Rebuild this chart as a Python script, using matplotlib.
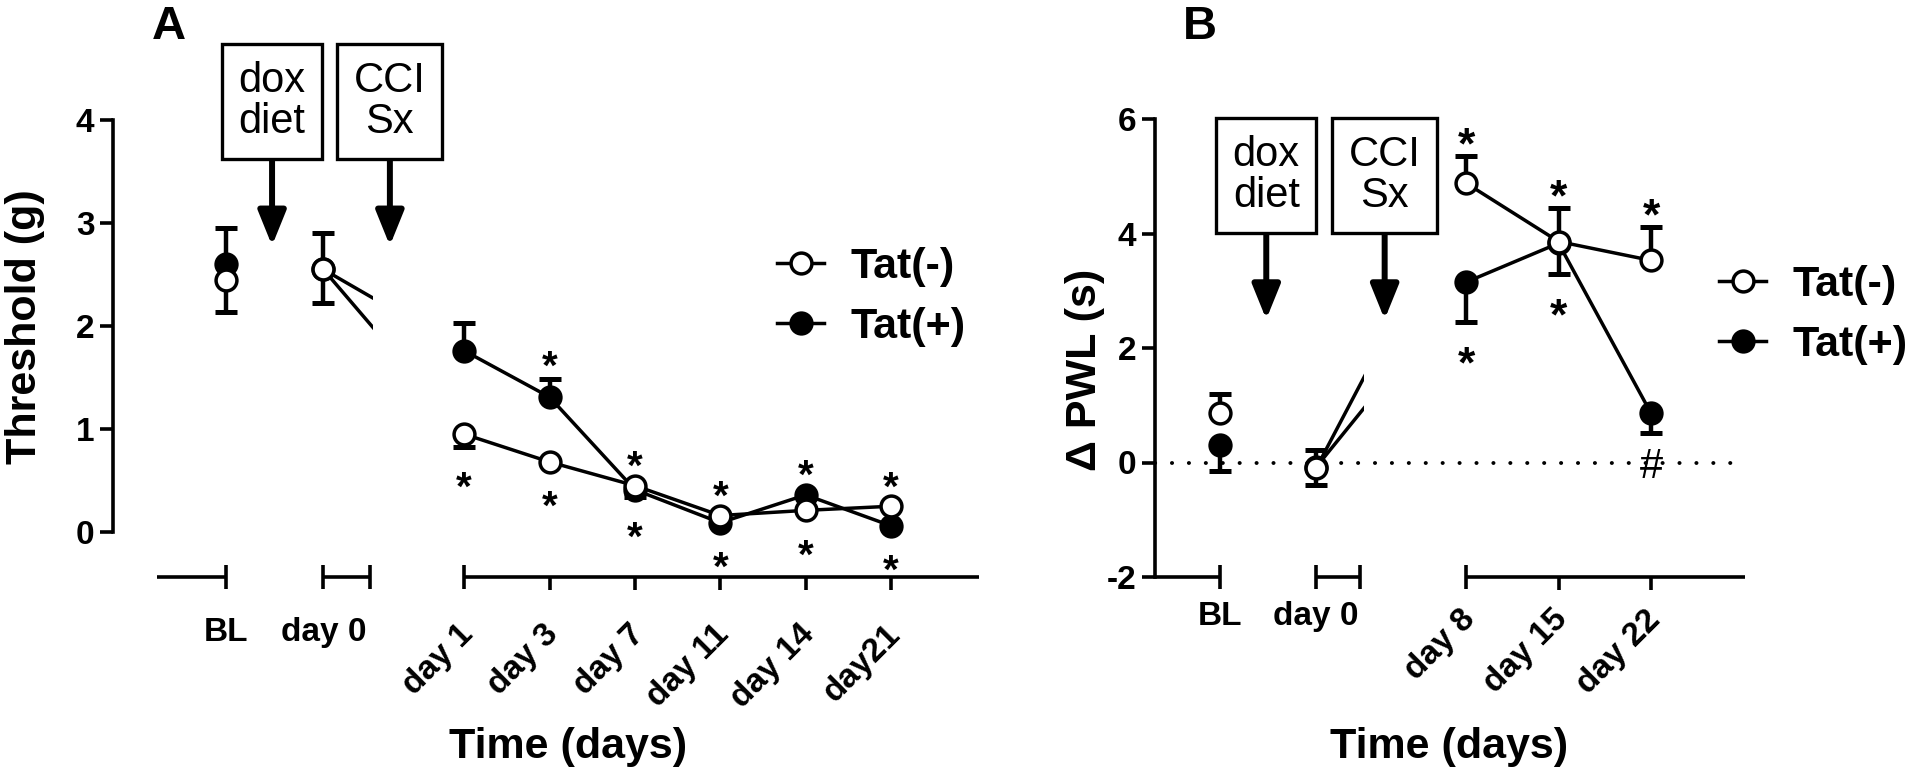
import numpy as np
import matplotlib
matplotlib.use('Agg')
import matplotlib.pyplot as plt
from matplotlib.lines import Line2D
from matplotlib.patches import Rectangle

plt.rcParams['font.family'] = ['Liberation Sans', 'DejaVu Sans']

# --
# data, panel A : threshold (g)

labels_a = ['BL', 'day 0', 'day 1', 'day 3', 'day 7', 'day 11', 'day 14', 'day21']
neg_a    = [2.45, 2.55, 0.95, 0.68, 0.45, 0.16, 0.21, 0.25]
neg_a_lo = [0.31, 0.33, 0.12, 0.00, 0.00, 0.00, 0.00, 0.00]
neg_a_hi = [0.00, 0.00, 0.00, 0.00, 0.00, 0.00, 0.00, 0.00]
pos_a    = [2.60, 2.55, 1.76, 1.31, 0.41, 0.09, 0.36, 0.06]
pos_a_lo = [0.00, 0.00, 0.00, 0.00, 0.07, 0.00, 0.00, 0.00]
pos_a_hi = [0.35, 0.35, 0.27, 0.18, 0.00, 0.00, 0.00, 0.00]
# significance marks: (symbol, side) with side +1 above, -1 below
sig_neg_a = [None, None, ('*', -1), ('*', -1), ('*', 1), ('*', 1), ('*', -1), ('*', 1)]
sig_pos_a = [None, None, None, ('*', 1), ('*', -1), ('*', -1), ('*', 1), ('*', -1)]

# panel B : delta PWL (s)

labels_b = ['BL', 'day 0', 'day 8', 'day 15', 'day 22']
neg_b    = [0.86, -0.10, 4.88, 3.86, 3.53]
neg_b_lo = [0.00, 0.30, 0.00, 0.00, 0.00]
neg_b_hi = [0.34, 0.00, 0.47, 0.58, 0.58]
pos_b    = [0.30, -0.08, 3.15, 3.83, 0.86]
pos_b_lo = [0.44, 0.00, 0.70, 0.54, 0.35]
pos_b_hi = [0.00, 0.29, 0.00, 0.00, 0.00]
sig_neg_b = [None, None, ('*', 1), ('*', 1), ('*', 1)]
sig_pos_b = [None, None, ('*', -1), ('*', -1), ('#', -1)]

# --
# layout (pixels of the 1920x776 canvas)

W, H = 1920, 776
PT = 0.72   # points per pixel at dpi 100

fig = plt.figure(figsize=(19.2, 7.76), dpi=100)

def px_rect(l, t, r, b):
  return [l / W, 1 - b / H, (r - l) / W, (b - t) / H]

ax_a = fig.add_axes(px_rect(113, 120, 979, 577))
ax_b = fig.add_axes(px_rect(1155, 119, 1745, 577))

xpos_a = np.r_[0, 1.14, 2.79 + np.arange(6)]
xpos_b = np.r_[0, 1.04, 2.66 + np.arange(3)]

LW = 2.5
MS = 15
AX_LW = 2.6
TICK_FS = 24


def draw_panel(ax, xpos, labels, neg, neg_lo, neg_hi, pos, pos_lo, pos_hi,
               sig_neg, sig_pos, xlim, ylim, yticks, seg1_start, seg2_end, gap_x,
               lab_pad, rot_pad, sig_fs, ppu):
  ax.set_xlim(*xlim)
  ax.set_ylim(*ylim)

  for s in ['top', 'right', 'bottom']:
    ax.spines[s].set_visible(False)
  ax.spines['left'].set_linewidth(AX_LW)
  ax.spines['left'].set_bounds(yticks[0], yticks[-1])
  ax.set_yticks(yticks, [str(t) for t in yticks], fontsize=TICK_FS, fontweight='bold')
  ax.tick_params(axis='y', length=9.4, width=AX_LW, pad=4)
  ax.set_xticks([])
  ax.patch.set_visible(False)

  y0 = ylim[0]
  # broken x axis
  segs = [(seg1_start, xpos[0]), (xpos[1], seg2_end), (xpos[2], xlim[1])]
  for a, b in segs:
    ax.plot([a, b], [y0, y0], color='k', lw=AX_LW, solid_capstyle='butt', clip_on=False)
  caps = [xpos[0], xpos[1], seg2_end, xpos[2]]
  ax.plot(caps, [y0] * len(caps), ls='none', marker='|', ms=17, mew=AX_LW, color='k', clip_on=False)
  ax.plot(xpos[3:], [y0] * len(xpos[3:]), ls='none', marker=3, ms=9, mew=AX_LW, color='k', clip_on=False)

  # tick labels
  for i, (x, lab) in enumerate(zip(xpos, labels)):
    if i < 2:
      ax.annotate(lab, xy=(x, y0), xytext=(0, -lab_pad * PT), textcoords='offset points',
                  ha='center', va='top', fontsize=TICK_FS, fontweight='bold', annotation_clip=False)
    else:
      ax.annotate(lab, xy=(x, y0), xytext=(3, -rot_pad * PT), textcoords='offset points',
                  ha='right', va='center', rotation=45, rotation_mode='anchor',
                  fontsize=TICK_FS, fontweight='bold', annotation_clip=False)

  # connecting lines (day 0 -> first post-surgery point is cut at the axis break)
  clip = Rectangle((xlim[0], ylim[0] - 10), gap_x - xlim[0], 100, transform=ax.transData)
  for vals, z in [(pos, 2.5), (neg, 2.6)]:
    ax.plot(xpos[2:], vals[2:], color='k', lw=LW, zorder=z)
    ln, = ax.plot(xpos[1:3], vals[1:3], color='k', lw=LW, zorder=z)
    ln.set_clip_path(clip)

  # error bars
  for vals, lo, hi in [(pos, pos_lo, pos_hi), (neg, neg_lo, neg_hi)]:
    vals, lo, hi = map(np.asarray, (vals, lo, hi))
    m = (lo > 0) | (hi > 0)
    ax.errorbar(xpos[m], vals[m], yerr=[lo[m], hi[m]], fmt='none', ecolor='k',
                elinewidth=3.2, capsize=8, capthick=3.6, zorder=2)

  # markers
  ax.plot(xpos, pos, ls='none', marker='o', ms=MS, mfc='k', mec='k', mew=LW, zorder=3)
  ax.plot(xpos, neg, ls='none', marker='o', ms=MS, mfc='white', mec='k', mew=LW, zorder=4)

  # significance marks
  for vals, lo, hi, sig in [(neg, neg_lo, neg_hi, sig_neg), (pos, pos_lo, pos_hi, sig_pos)]:
    for x, v, l, h, s in zip(xpos, vals, lo, hi, sig):
      if s is None:
        continue
      sym, side = s
      if side > 0:
        d = max(h * ppu + 23, 30)
      else:
        d = -max(l * ppu + 30, 34)
      if sym == '*':
        fs, k, w = sig_fs, 0.575, 'bold'
      else:
        fs, k, w = sig_fs - 2, 0.345, 'normal'
      ax.annotate(sym, xy=(x, v), xytext=(0, d * PT - k * fs), textcoords='offset points',
                  ha='center', va='baseline', fontsize=fs, fontweight=w, annotation_clip=False)


draw_panel(ax_a, xpos_a, labels_a, neg_a, neg_a_lo, neg_a_hi, pos_a, pos_a_lo, pos_a_hi,
           sig_neg_a, sig_pos_a, (-1.323, 8.82), (-0.437, 4), [0, 1, 2, 3, 4],
           -0.81, 1.686, 1.72, 40, 53, 29, 457 / 4.437)
draw_panel(ax_b, xpos_b, labels_b, neg_b, neg_b_lo, neg_b_hi, pos_b, pos_b_lo, pos_b_hi,
           sig_neg_b, sig_pos_b, (-0.703, 5.676), (-2, 6), [-2, 0, 2, 4, 6],
           -0.703, 1.514, 1.557, 24, 38, 32, 458 / 8)

# dotted zero line in B
ax_b.plot([-0.703, 5.54], [0, 0], color='k', lw=2.8, ls=(0, (0.05, 4.3)),
          dash_capstyle='round', zorder=1)

# treatment boxes with arrows


def event_box(ax, text, x, y_box, y_tip):
  ax.annotate(text, xy=(x, y_tip), xytext=(x, y_box), ha='center', va='center',
              fontsize=30, linespacing=1.05, annotation_clip=False,
              bbox=dict(boxstyle='square,pad=0.4', fc='white', ec='k', lw=2.4),
              arrowprops=dict(arrowstyle='-|>,head_length=2.1,head_width=0.85', mutation_scale=10,
                              lw=4.3, color='k', shrinkA=0, shrinkB=0))


event_box(ax_a, 'dox\ndiet', 0.54, 4.18, 2.78)
event_box(ax_a, 'CCI\nSx', 1.92, 4.18, 2.78)
event_box(ax_b, 'dox\ndiet', 0.50, 5.01, 2.50)
event_box(ax_b, 'CCI\nSx', 1.78, 5.01, 2.50)

# legends
handles = [Line2D([0], [0], color='k', lw=LW, marker='o', ms=MS, mfc='white', mec='k', mew=LW),
           Line2D([0], [0], color='k', lw=LW, marker='o', ms=MS, mfc='k', mec='k', mew=LW)]
for ax, lx, ly in [(ax_a, 777, 297), (ax_b, 1719, 315)]:
  ax.legend(handles, ['Tat(-)', 'Tat(+)'], loc='center left', bbox_to_anchor=(lx / W, 1 - ly / H),
            bbox_transform=fig.transFigure, frameon=False, borderpad=0, borderaxespad=0,
            handlelength=1.1, handletextpad=0.6, labelspacing=0.45,
            prop={'weight': 'bold', 'size': 31})

# axis titles and panel letters
fig.text(25 / W, 1 - 327 / H, 'Threshold (g)', rotation=90, ha='center', va='center',
         fontsize=31, fontweight='bold')
fig.text(1085 / W, 1 - 370 / H, '\u0394 PWL (s)', rotation=90, ha='center', va='center',
         fontsize=31, fontweight='bold')
fig.text(568 / W, 1 - 747 / H, 'Time (days)', ha='center', va='center', fontsize=31, fontweight='bold')
fig.text(1449 / W, 1 - 747 / H, 'Time (days)', ha='center', va='center', fontsize=31, fontweight='bold')
fig.text(169 / W, 1 - 27 / H, 'A', ha='center', va='center', fontsize=34, fontweight='bold')
fig.text(1200 / W, 1 - 27 / H, 'B', ha='center', va='center', fontsize=34, fontweight='bold')

fig.savefig('out.png', dpi=100)
